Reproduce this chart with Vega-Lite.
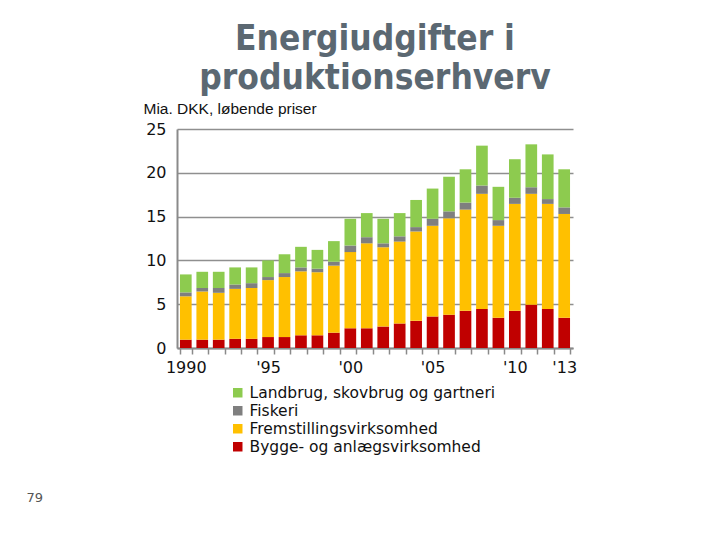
{
  "$schema": "https://vega.github.io/schema/vega-lite/v6.json",
  "width": 396,
  "height": 219,
  "autosize": {"type": "none"},
  "padding": {"left": 177, "top": 129, "right": 147, "bottom": 192},
  "background": "white",
  "title": {
    "text": ["Energiudgifter i", "produktionserhverv"],
    "font": "DejaVu Sans Condensed",
    "fontWeight": "bold",
    "fontSize": 35,
    "lineHeight": 39,
    "color": "#5B6872",
    "anchor": "middle",
    "frame": "group",
    "offset": 5
  },
  "data": {
    "values": [
      {"year": 1990, "sector": "Bygge- og anlægsvirksomhed", "value": 0.95},
      {"year": 1990, "sector": "Fremstillingsvirksomhed", "value": 4.95},
      {"year": 1990, "sector": "Fiskeri", "value": 0.45},
      {"year": 1990, "sector": "Landbrug, skovbrug og gartneri", "value": 2.05},
      {"year": 1991, "sector": "Bygge- og anlægsvirksomhed", "value": 0.95},
      {"year": 1991, "sector": "Fremstillingsvirksomhed", "value": 5.5},
      {"year": 1991, "sector": "Fiskeri", "value": 0.4},
      {"year": 1991, "sector": "Landbrug, skovbrug og gartneri", "value": 1.85},
      {"year": 1992, "sector": "Bygge- og anlægsvirksomhed", "value": 0.95},
      {"year": 1992, "sector": "Fremstillingsvirksomhed", "value": 5.35},
      {"year": 1992, "sector": "Fiskeri", "value": 0.55},
      {"year": 1992, "sector": "Landbrug, skovbrug og gartneri", "value": 1.85},
      {"year": 1993, "sector": "Bygge- og anlægsvirksomhed", "value": 1.05},
      {"year": 1993, "sector": "Fremstillingsvirksomhed", "value": 5.7},
      {"year": 1993, "sector": "Fiskeri", "value": 0.5},
      {"year": 1993, "sector": "Landbrug, skovbrug og gartneri", "value": 1.95},
      {"year": 1994, "sector": "Bygge- og anlægsvirksomhed", "value": 1.05},
      {"year": 1994, "sector": "Fremstillingsvirksomhed", "value": 5.8},
      {"year": 1994, "sector": "Fiskeri", "value": 0.55},
      {"year": 1994, "sector": "Landbrug, skovbrug og gartneri", "value": 1.8},
      {"year": 1995, "sector": "Bygge- og anlægsvirksomhed", "value": 1.25},
      {"year": 1995, "sector": "Fremstillingsvirksomhed", "value": 6.5},
      {"year": 1995, "sector": "Fiskeri", "value": 0.35},
      {"year": 1995, "sector": "Landbrug, skovbrug og gartneri", "value": 1.9},
      {"year": 1996, "sector": "Bygge- og anlægsvirksomhed", "value": 1.25},
      {"year": 1996, "sector": "Fremstillingsvirksomhed", "value": 6.85},
      {"year": 1996, "sector": "Fiskeri", "value": 0.45},
      {"year": 1996, "sector": "Landbrug, skovbrug og gartneri", "value": 2.15},
      {"year": 1997, "sector": "Bygge- og anlægsvirksomhed", "value": 1.45},
      {"year": 1997, "sector": "Fremstillingsvirksomhed", "value": 7.3},
      {"year": 1997, "sector": "Fiskeri", "value": 0.45},
      {"year": 1997, "sector": "Landbrug, skovbrug og gartneri", "value": 2.35},
      {"year": 1998, "sector": "Bygge- og anlægsvirksomhed", "value": 1.45},
      {"year": 1998, "sector": "Fremstillingsvirksomhed", "value": 7.2},
      {"year": 1998, "sector": "Fiskeri", "value": 0.4},
      {"year": 1998, "sector": "Landbrug, skovbrug og gartneri", "value": 2.15},
      {"year": 1999, "sector": "Bygge- og anlægsvirksomhed", "value": 1.75},
      {"year": 1999, "sector": "Fremstillingsvirksomhed", "value": 7.65},
      {"year": 1999, "sector": "Fiskeri", "value": 0.45},
      {"year": 1999, "sector": "Landbrug, skovbrug og gartneri", "value": 2.35},
      {"year": 2000, "sector": "Bygge- og anlægsvirksomhed", "value": 2.25},
      {"year": 2000, "sector": "Fremstillingsvirksomhed", "value": 8.7},
      {"year": 2000, "sector": "Fiskeri", "value": 0.75},
      {"year": 2000, "sector": "Landbrug, skovbrug og gartneri", "value": 3.05},
      {"year": 2001, "sector": "Bygge- og anlægsvirksomhed", "value": 2.25},
      {"year": 2001, "sector": "Fremstillingsvirksomhed", "value": 9.7},
      {"year": 2001, "sector": "Fiskeri", "value": 0.7},
      {"year": 2001, "sector": "Landbrug, skovbrug og gartneri", "value": 2.75},
      {"year": 2002, "sector": "Bygge- og anlægsvirksomhed", "value": 2.45},
      {"year": 2002, "sector": "Fremstillingsvirksomhed", "value": 9.05},
      {"year": 2002, "sector": "Fiskeri", "value": 0.45},
      {"year": 2002, "sector": "Landbrug, skovbrug og gartneri", "value": 2.8},
      {"year": 2003, "sector": "Bygge- og anlægsvirksomhed", "value": 2.8},
      {"year": 2003, "sector": "Fremstillingsvirksomhed", "value": 9.35},
      {"year": 2003, "sector": "Fiskeri", "value": 0.6},
      {"year": 2003, "sector": "Landbrug, skovbrug og gartneri", "value": 2.65},
      {"year": 2004, "sector": "Bygge- og anlægsvirksomhed", "value": 3.1},
      {"year": 2004, "sector": "Fremstillingsvirksomhed", "value": 10.2},
      {"year": 2004, "sector": "Fiskeri", "value": 0.5},
      {"year": 2004, "sector": "Landbrug, skovbrug og gartneri", "value": 3.1},
      {"year": 2005, "sector": "Bygge- og anlægsvirksomhed", "value": 3.6},
      {"year": 2005, "sector": "Fremstillingsvirksomhed", "value": 10.35},
      {"year": 2005, "sector": "Fiskeri", "value": 0.8},
      {"year": 2005, "sector": "Landbrug, skovbrug og gartneri", "value": 3.45},
      {"year": 2006, "sector": "Bygge- og anlægsvirksomhed", "value": 3.8},
      {"year": 2006, "sector": "Fremstillingsvirksomhed", "value": 11.0},
      {"year": 2006, "sector": "Fiskeri", "value": 0.8},
      {"year": 2006, "sector": "Landbrug, skovbrug og gartneri", "value": 3.95},
      {"year": 2007, "sector": "Bygge- og anlægsvirksomhed", "value": 4.25},
      {"year": 2007, "sector": "Fremstillingsvirksomhed", "value": 11.55},
      {"year": 2007, "sector": "Fiskeri", "value": 0.8},
      {"year": 2007, "sector": "Landbrug, skovbrug og gartneri", "value": 3.8},
      {"year": 2008, "sector": "Bygge- og anlægsvirksomhed", "value": 4.45},
      {"year": 2008, "sector": "Fremstillingsvirksomhed", "value": 13.15},
      {"year": 2008, "sector": "Fiskeri", "value": 0.95},
      {"year": 2008, "sector": "Landbrug, skovbrug og gartneri", "value": 4.55},
      {"year": 2009, "sector": "Bygge- og anlægsvirksomhed", "value": 3.45},
      {"year": 2009, "sector": "Fremstillingsvirksomhed", "value": 10.5},
      {"year": 2009, "sector": "Fiskeri", "value": 0.65},
      {"year": 2009, "sector": "Landbrug, skovbrug og gartneri", "value": 3.8},
      {"year": 2010, "sector": "Bygge- og anlægsvirksomhed", "value": 4.25},
      {"year": 2010, "sector": "Fremstillingsvirksomhed", "value": 12.2},
      {"year": 2010, "sector": "Fiskeri", "value": 0.7},
      {"year": 2010, "sector": "Landbrug, skovbrug og gartneri", "value": 4.4},
      {"year": 2011, "sector": "Bygge- og anlægsvirksomhed", "value": 4.95},
      {"year": 2011, "sector": "Fremstillingsvirksomhed", "value": 12.65},
      {"year": 2011, "sector": "Fiskeri", "value": 0.75},
      {"year": 2011, "sector": "Landbrug, skovbrug og gartneri", "value": 4.9},
      {"year": 2012, "sector": "Bygge- og anlægsvirksomhed", "value": 4.45},
      {"year": 2012, "sector": "Fremstillingsvirksomhed", "value": 12.0},
      {"year": 2012, "sector": "Fiskeri", "value": 0.55},
      {"year": 2012, "sector": "Landbrug, skovbrug og gartneri", "value": 5.1},
      {"year": 2013, "sector": "Bygge- og anlægsvirksomhed", "value": 3.45},
      {"year": 2013, "sector": "Fremstillingsvirksomhed", "value": 11.85},
      {"year": 2013, "sector": "Fiskeri", "value": 0.75},
      {"year": 2013, "sector": "Landbrug, skovbrug og gartneri", "value": 4.35}
    ]
  },
  "transform": [
    {"calculate": "indexof(['Bygge- og anlægsvirksomhed', 'Fremstillingsvirksomhed', 'Fiskeri', 'Landbrug, skovbrug og gartneri'], datum.sector)", "as": "stackOrder"}
  ],
  "mark": {"type": "bar"},
  "encoding": {
    "x": {
      "field": "year",
      "type": "ordinal",
      "scale": {"paddingInner": 0.29, "paddingOuter": 0.18},
      "axis": {
        "title": "79",
        "titleX": -151,
        "titleY": 149,
        "titleAlign": "left",
        "titleBaseline": "middle",
        "titleFont": "DejaVu Sans",
        "titleFontSize": 13,
        "titleFontWeight": "normal",
        "titleColor": "#555555",
        "labelAngle": 0,
        "labelExpr": "datum.value == 1990 ? '1990' : (datum.value == 1995 || datum.value == 2000 || datum.value == 2005 || datum.value == 2010 || datum.value == 2013) ? \"'\" + substring(datum.label, 2, 4) : ''",
        "labelFont": "DejaVu Sans",
        "labelFontSize": 16,
        "labelColor": "#111111",
        "labelPadding": 5,
        "tickBand": "extent",
        "tickSize": 6,
        "tickColor": "#8a8a8a",
        "tickWidth": 1.5,
        "domainColor": "#8a8a8a",
        "domainWidth": 2,
        "grid": false
      }
    },
    "y": {
      "field": "value",
      "type": "quantitative",
      "stack": "zero",
      "scale": {"domain": [0, 25]},
      "axis": {
        "values": [0, 5, 10, 15, 20, 25],
        "title": "Mia. DKK, løbende priser",
        "titleAngle": 0,
        "titleAlign": "left",
        "titleBaseline": "middle",
        "titleX": -34,
        "titleY": -21,
        "titleFont": "Liberation Sans",
        "titleFontSize": 15.5,
        "titleFontWeight": "normal",
        "titleColor": "#111111",
        "labelFont": "DejaVu Sans",
        "labelFontSize": 16,
        "labelColor": "#111111",
        "labelPadding": 11,
        "ticks": false,
        "domainColor": "#8a8a8a",
        "domainWidth": 2,
        "grid": true,
        "gridColor": "#8f8f8f",
        "gridWidth": 1.5
      }
    },
    "color": {
      "field": "sector",
      "type": "nominal",
      "scale": {
        "domain": ["Landbrug, skovbrug og gartneri", "Fiskeri", "Fremstillingsvirksomhed", "Bygge- og anlægsvirksomhed"],
        "range": ["#8DCB4F", "#7F7F7F", "#FFC000", "#C00000"]
      },
      "legend": {
        "title": null,
        "orient": "none",
        "legendX": 53,
        "legendY": 256,
        "symbolType": "square",
        "symbolSize": 90,
        "symbolStrokeWidth": 0,
        "labelFont": "DejaVu Sans",
        "labelFontSize": 15.5,
        "labelLimit": 0,
        "labelColor": "#111111",
        "labelOffset": 4,
        "rowPadding": 1
      }
    },
    "order": {"field": "stackOrder", "type": "quantitative", "sort": "ascending"}
  },
  "config": {
    "view": {"stroke": null},
    "axis": {"gridDash": []}
  }
}
